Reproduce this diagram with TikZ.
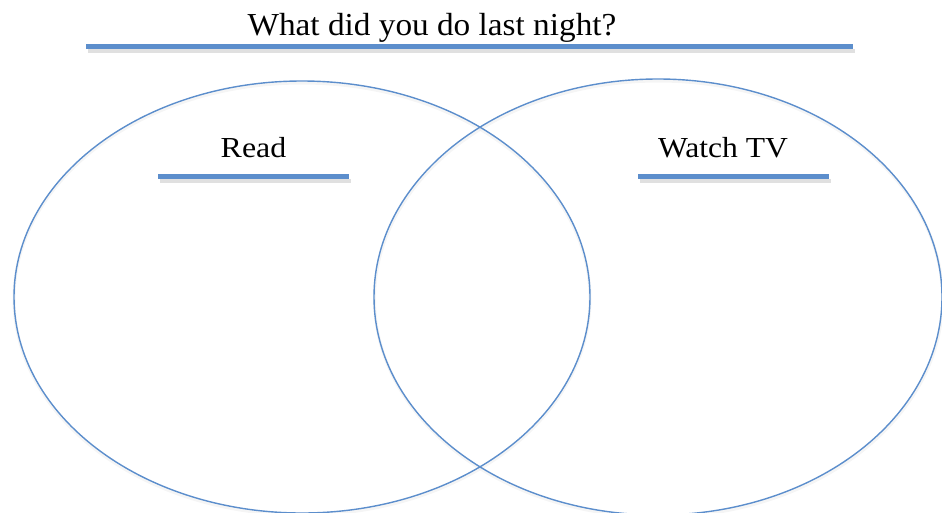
\documentclass[tikz,border=0pt]{standalone}
\usepackage{fontspec}
\setmainfont{Liberation Serif}
\usetikzlibrary{shapes.geometric}
\definecolor{vblue}{RGB}{92,142,204}
\tikzset{
  ring/.style={draw=vblue, line width=1.4pt, ellipse, inner sep=0pt},
  ringshadow/.style={draw=black!15, line width=3pt, ellipse, inner sep=0pt, opacity=0.25},
  rule/.style={draw=vblue, line width=5pt},
  ruleshadow/.style={draw=black!30, line width=4pt, opacity=0.4},
  lbl/.style={inner sep=0pt, anchor=base, text=black}
}
\begin{document}
\begin{tikzpicture}[x=1pt, y=-1pt]
\useasboundingbox (0,0) rectangle (942,512);
\clip (0,0) rectangle (942,512);
% title
\node[lbl, font=\fontsize{32}{36}\selectfont] (title) at (432,35) {\scalebox{1.04}[1]{What did you do last night?}};
\coordinate (t1) at (86,46.5);
\coordinate (t2) at (853,46.5);
\draw[ruleshadow] ([shift={(2,4)}]t1) -- ([shift={(2,4)}]t2);
\draw[rule] (t1) -- (t2);
% ellipses (faint shadows first)
\node[ringshadow, minimum width=576pt, minimum height=432pt] (readsh) at (302,299) {};
\node[ringshadow, minimum width=568pt, minimum height=436pt] (tvsh) at (658.5,299) {};
\node[ring, minimum width=576pt, minimum height=432pt] (read) at (302,297) {};
\node[ring, minimum width=568pt, minimum height=436pt] (tv) at (658,297) {};
% labels
\node[lbl, font=\fontsize{29}{33}\selectfont] (readlbl) at (253.5,157) {\scalebox{1.1}[1]{Read}};
\coordinate (r1) at (158,176.5);
\coordinate (r2) at (349,176.5);
\draw[ruleshadow] ([shift={(2,4)}]r1) -- ([shift={(2,4)}]r2);
\draw[rule] (r1) -- (r2);
\node[lbl, font=\fontsize{29}{33}\selectfont] (tvlbl) at (723,157) {\scalebox{1.09}[1]{Watch TV}};
\coordinate (w1) at (638,176.5);
\coordinate (w2) at (829,176.5);
\draw[ruleshadow] ([shift={(2,4)}]w1) -- ([shift={(2,4)}]w2);
\draw[rule] (w1) -- (w2);
\end{tikzpicture}
\end{document}
